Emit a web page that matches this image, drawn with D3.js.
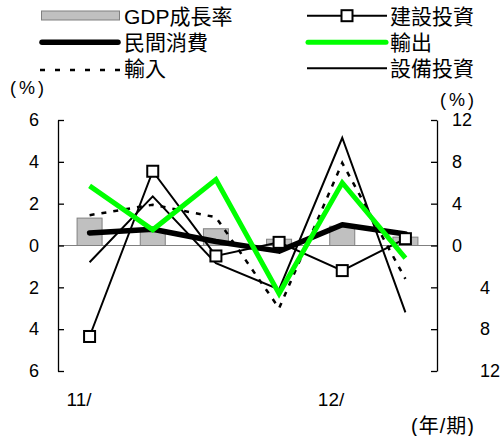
<!DOCTYPE html>
<html>
<head>
<meta charset="utf-8">
<script src="https://cdn.jsdelivr.net/npm/d3@7"></script>
<style>
  body { margin: 0; background: #fff; }
  svg { display: block; }
  text { font-family: "Liberation Sans", Arial, "Noto Sans CJK TC", sans-serif; fill: #000; }
</style>
</head>
<body>
<div id="chart"></div>
<script>
// quarters and their axis labels
var quarters = ["11Q1", "11Q2", "11Q3", "11Q4", "12Q1", "12Q2"];
var quarterLabels = ["11/", "", "", "", "12/", ""];

// left axis (%)
var gdp = [1.31, 0.75, 0.80, 0.30, 0.92, 0.40];
var consumption = [0.60, 0.78, 0.19, -0.27, 0.99, 0.55];

// right axis (%)
var construction = [-8.7, 7.1, -1.0, 0.3, -2.4, 0.65];
var exports = [5.7, 1.5, 6.3, -4.6, 6.0, -1.2];
var imports = [2.9, 3.9, 2.7, -6.0, 7.9, -3.2];
var equipment = [-1.6, 4.7, -1.7, -4.2, 10.3, -6.4];

var leftTicks = [6, 4, 2, 0, -2, -4, -6];
var rightTicks = [12, 8, 4, 0, -4, -8, -12];

var width = 504, height = 436;
var plotLeft = 58, plotRight = 437, plotTop = 120, plotBottom = 371;

var svg = d3.select("#chart").append("svg")
    .attr("width", width)
    .attr("height", height);

var x = d3.scaleBand().domain(quarters).range([plotLeft, plotRight]);
var yL = d3.scaleLinear().domain([-6, 6]).range([plotBottom, plotTop]);
var yR = d3.scaleLinear().domain([-12, 12]).range([plotBottom, plotTop]);
var cx = function(i) { return x(quarters[i]) + x.bandwidth() / 2; };

// bars for GDP
svg.append("g").selectAll("rect")
    .data(gdp)
    .enter().append("rect")
    .attr("x", function(d, i) { return cx(i) - 12.5; })
    .attr("width", 25)
    .attr("y", function(d) { return yL(Math.max(d, 0)); })
    .attr("height", function(d) { return Math.abs(yL(d) - yL(0)); })
    .attr("fill", "#c0c0c0")
    .attr("stroke", "#808080")
    .attr("stroke-width", 1);

// zero line
svg.append("line")
    .attr("x1", plotLeft).attr("x2", plotRight)
    .attr("y1", yL(0)).attr("y2", yL(0))
    .attr("stroke", "#808080").attr("stroke-width", 1.2);

// axes
var leftAxis = svg.append("g")
    .attr("transform", "translate(" + plotLeft + ",0)")
    .call(d3.axisLeft(yL).tickValues(leftTicks).tickSizeInner(-6).tickSizeOuter(0).tickPadding(19)
        .tickFormat(function(d) { return Math.abs(d); }));
var rightAxis = svg.append("g")
    .attr("transform", "translate(" + plotRight + ",0)")
    .call(d3.axisRight(yR).tickValues(rightTicks).tickSizeInner(-6).tickSizeOuter(0).tickPadding(15)
        .tickFormat(function(d) { return Math.abs(d); }));
[leftAxis, rightAxis].forEach(function(a) {
  a.selectAll("path, line").attr("stroke", "#000").attr("stroke-width", 1.3);
  a.selectAll("text").attr("font-size", 18)
    .style("font-family", "\"Liberation Sans\", Arial, sans-serif");
});
// labels below zero on the right sit further right
rightAxis.selectAll(".tick text")
    .attr("x", function(d) { return d < 0 ? 43 : 15; });

var line = function(data, yScale) {
  return d3.line()
    .x(function(d, i) { return cx(i); })
    .y(function(d) { return yScale(d); })(data);
};

// series lines
svg.append("path").attr("d", line(consumption, yL))
    .attr("fill", "none").attr("stroke", "#000").attr("stroke-width", 5.5)
    .attr("stroke-linejoin", "round").attr("stroke-linecap", "round");
svg.append("path").attr("d", line(imports, yR))
    .attr("fill", "none").attr("stroke", "#000").attr("stroke-width", 2.5)
    .attr("stroke-dasharray", "5,7");
svg.append("path").attr("d", line(equipment, yR))
    .attr("fill", "none").attr("stroke", "#000").attr("stroke-width", 2);
svg.append("path").attr("d", line(construction, yR))
    .attr("fill", "none").attr("stroke", "#000").attr("stroke-width", 2);
svg.append("path").attr("d", line(exports, yR))
    .attr("fill", "none").attr("stroke", "#00ff00").attr("stroke-width", 5);
svg.append("g").selectAll("rect")
    .data(construction)
    .enter().append("rect")
    .attr("x", function(d, i) { return cx(i) - 5.5; })
    .attr("y", function(d) { return yR(d) - 5.5; })
    .attr("width", 11).attr("height", 11)
    .attr("fill", "#fff").attr("stroke", "#000").attr("stroke-width", 2);

// x labels
svg.append("g").selectAll("text")
    .data(quarterLabels)
    .enter().append("text")
    .attr("x", function(d, i) { return cx(i) + 2; })
    .attr("y", 406)
    .attr("text-anchor", "end")
    .attr("font-size", 19)
    .text(function(d) { return d; });

svg.append("text").attr("x", 10).attr("y", 94).attr("font-size", 18)
    .attr("letter-spacing", 3).text("(%)");
svg.append("text").attr("x", 440).attr("y", 106).attr("font-size", 18)
    .attr("letter-spacing", 3).text("(%)");
svg.append("text").attr("x", 411).attr("y", 433).attr("font-size", 20)
    .attr("letter-spacing", 1).text("(年/期)");

// legend
var lg = svg.append("g").attr("font-size", 21);
lg.append("rect").attr("x", 41.5).attr("y", 11).attr("width", 78).attr("height", 9)
    .attr("fill", "#c0c0c0").attr("stroke", "#808080");
lg.append("text").attr("x", 124).attr("y", 24).text("GDP成長率");
lg.append("line").attr("x1", 42).attr("x2", 118).attr("y1", 42.3).attr("y2", 42.3)
    .attr("stroke", "#000").attr("stroke-width", 5.5).attr("stroke-linecap", "round");
lg.append("text").attr("x", 124).attr("y", 50).text("民間消費");
lg.append("line").attr("x1", 40).attr("x2", 120).attr("y1", 70).attr("y2", 70)
    .attr("stroke", "#000").attr("stroke-width", 2.5).attr("stroke-dasharray", "5,10");
lg.append("text").attr("x", 124).attr("y", 76).text("輸入");

lg.append("line").attr("x1", 307).attr("x2", 387).attr("y1", 15.7).attr("y2", 15.7)
    .attr("stroke", "#000").attr("stroke-width", 2);
lg.append("rect").attr("x", 341.5).attr("y", 10.2).attr("width", 11).attr("height", 11)
    .attr("fill", "#fff").attr("stroke", "#000").attr("stroke-width", 2);
lg.append("text").attr("x", 390).attr("y", 24).text("建設投資");
lg.append("line").attr("x1", 308).attr("x2", 386).attr("y1", 42.3).attr("y2", 42.3)
    .attr("stroke", "#00ff00").attr("stroke-width", 5).attr("stroke-linecap", "round");
lg.append("text").attr("x", 390).attr("y", 50).text("輸出");
lg.append("line").attr("x1", 307).attr("x2", 387).attr("y1", 68.3).attr("y2", 68.3)
    .attr("stroke", "#000").attr("stroke-width", 2);
lg.append("text").attr("x", 390).attr("y", 76).text("設備投資");
</script>
</body>
</html>
